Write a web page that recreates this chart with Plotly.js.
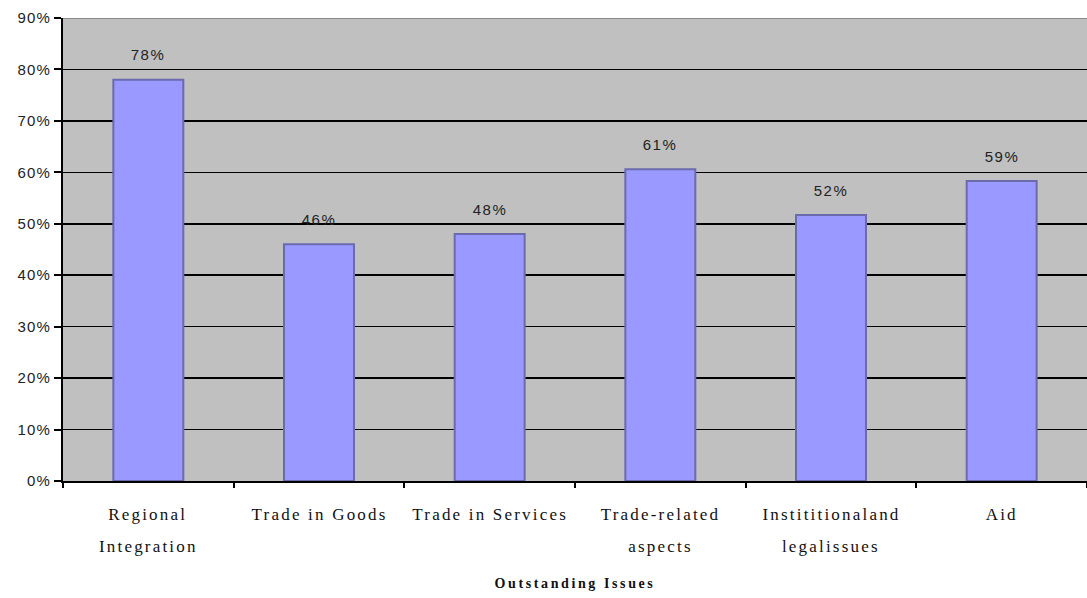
<!DOCTYPE html>
<html>
<head>
<meta charset="utf-8">
<script src="https://cdn.plot.ly/plotly-3.0.1.min.js"></script>
<style>
html,body{margin:0;padding:0;background:#fff;}
#chart{width:1087px;height:598px;}
#chart .ytick text{letter-spacing:1.2px;}
</style>
</head>
<body>
<div id="chart"></div>
<script>
// Data
const categories = ["Regional Integration", "Trade in Goods", "Trade in Services", "Trade-related aspects", "Instititionaland legalissues", "Aid"];
const catLine1 = ["Regional", "Trade in Goods", "Trade in Services", "Trade-related", "Instititionaland", "Aid"];
const catLine2 = ["Integration", "", "", "aspects", "legalissues", ""];
const values = [78, 46, 48, 60.6, 51.7, 58.3];
const valueLabels = ["78%", "46%", "48%", "61%", "52%", "59%"];
const yTickVals = [0, 10, 20, 30, 40, 50, 60, 70, 80, 90];
const yTickText = ["0%", "10%", "20%", "30%", "40%", "50%", "60%", "70%", "80%", "90%"];
const xTitle = "Outstanding Issues";

const trace = {
  type: "bar",
  x: categories,
  y: values,
  marker: {color: "#9999ff", line: {color: "#6a6aad", width: 2}},
  hoverinfo: "none"
};

const annotations = [];
categories.forEach((c, i) => {
  annotations.push({
    x: c, y: values[i], xref: "x", yref: "y",
    text: valueLabels[i], showarrow: false,
    yanchor: "middle", yshift: 25,
    font: {family: "Liberation Sans, Arial, sans-serif", size: 15, color: "#222"}
  });
  annotations.push({
    x: c, y: 0, xref: "x", yref: "paper",
    text: catLine1[i], showarrow: false,
    yanchor: "middle", yshift: -33,
    font: {family: "Liberation Serif, Times New Roman, serif", size: 17, color: "#111"}
  });
  if (catLine2[i]) {
    annotations.push({
      x: c, y: 0, xref: "x", yref: "paper",
      text: catLine2[i], showarrow: false,
      yanchor: "middle", yshift: -65,
      font: {family: "Liberation Serif, Times New Roman, serif", size: 17, color: "#111"}
    });
  }
});
annotations.push({
  x: 0.5, y: 0, xref: "paper", yref: "paper",
  text: "<b>" + xTitle + "</b>", showarrow: false,
  yanchor: "middle", yshift: -102,
  font: {family: "Liberation Serif, Times New Roman, serif", size: 14, color: "#111"}
});

const layout = {
  width: 1087, height: 598,
  margin: {l: 63, r: 0, t: 17.5, b: 117, pad: 0},
  paper_bgcolor: "#ffffff",
  plot_bgcolor: "#c0c0c0",
  showlegend: false,
  bargap: 0.59,
  xaxis: {
    type: "category",
    showticklabels: false,
    ticks: "outside", ticklen: 5, tickwidth: 2, tickcolor: "#000",
    tickson: "boundaries",
    showline: true, linecolor: "#000", linewidth: 2,
    showgrid: false, zeroline: false
  },
  yaxis: {
    range: [0, 90],
    tickvals: yTickVals, ticktext: yTickText,
    ticks: "outside", ticklen: 7, tickwidth: 2, tickcolor: "#000",
    showline: true, linecolor: "#000", linewidth: 2,
    showgrid: true, gridcolor: "#000", gridwidth: 1.5,
    zeroline: false,
    tickfont: {family: "Liberation Sans, Arial, sans-serif", size: 15, color: "#222"}
  },
  shapes: [{
    type: "line", xref: "paper", yref: "y", x0: 0, x1: 1, y0: 90, y1: 90,
    line: {color: "#8a8a8a", width: 2}, layer: "above"
  }],
  annotations: annotations
};

Plotly.newPlot("chart", [trace], layout, {staticPlot: true, displayModeBar: false}).then(() => {
  document.querySelectorAll("#chart .annotation-text").forEach(t => {
    const s = t.textContent;
    if (s === xTitle) {
      t.style.letterSpacing = "2.6px";
    } else if (catLine1.includes(s) || catLine2.includes(s)) {
      t.style.letterSpacing = "2.2px";
    } else {
      t.style.letterSpacing = "1.5px";
    }
  });
});
</script>
</body>
</html>
